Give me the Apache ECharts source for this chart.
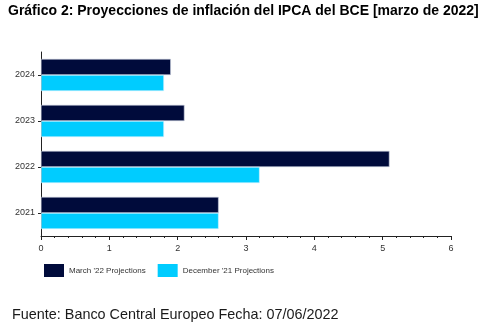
<!DOCTYPE html>
<html><head><meta charset="utf-8">
<script src="https://cdn.jsdelivr.net/npm/echarts@6/dist/echarts.min.js"></script>
<style>html,body{margin:0;padding:0;background:#fff}#c{width:503px;height:332px}</style>
</head><body><div id="c"></div>
<script>
const categories = ['2021', '2022', '2023', '2024'];
const march22 = [2.6, 5.1, 2.1, 1.9];
const dec21 = [2.6, 3.2, 1.8, 1.8];
const seriesNames = ["March '22 Projections", "December '21 Projections"];
const xTicks = [0, 1, 2, 3, 4, 5, 6];

const chart = echarts.init(document.getElementById('c'), null, {renderer: 'canvas'});
chart.setOption({
  animation: false,
  title: [
    {text: 'Gráfico 2: Proyecciones de inflación del IPCA del BCE [marzo de 2022]', left: 8, top: 4, padding: 0,
     textStyle: {fontFamily: 'Liberation Sans', fontWeight: 'bold', fontSize: 14, color: '#000'}},
    {text: 'Fuente: Banco Central Europeo Fecha: 07/06/2022', left: 12, top: 308, padding: 0,
     textStyle: {fontFamily: 'Liberation Sans', fontWeight: 'normal', fontSize: 14.4, color: '#1a1a1a'}}
  ],
  legend: {left: 44, top: 264, padding: 0, itemWidth: 20, itemHeight: 13, itemGap: 12, icon: 'rect',
    itemStyle: {borderWidth: 0},
    textStyle: {fontFamily: 'Liberation Sans', fontSize: 8, color: '#333'},
    data: seriesNames},
  grid: {left: 41, right: 52, top: 52, bottom: 96, containLabel: false},
  xAxis: {type: 'value', min: xTicks[0], max: xTicks[xTicks.length - 1], interval: 1,
    axisLine: {show: true, lineStyle: {color: '#222', width: 1}},
    axisTick: {show: true, length: 4, lineStyle: {color: '#222'}},
    minorTick: {show: true, splitNumber: 5, length: 2, lineStyle: {color: '#222'}},
    splitLine: {show: false},
    axisLabel: {fontFamily: 'Liberation Sans', fontSize: 9, color: '#333', margin: 8}},
  yAxis: {type: 'category', data: categories,
    axisLine: {show: true, lineStyle: {color: '#222', width: 1}},
    axisTick: {show: true, alignWithLabel: true, length: 3, lineStyle: {color: '#222'}},
    axisLabel: {fontFamily: 'Liberation Sans', fontSize: 9, color: '#333', margin: 6}},
  series: [
    {name: seriesNames[0], type: 'bar', data: march22, barGap: '0%', barCategoryGap: '30%',
     itemStyle: {color: '#000B3B', borderColor: '#c8d0e0', borderWidth: 0.6}},
    {name: seriesNames[1], type: 'bar', data: dec21,
     itemStyle: {color: '#00CCFF', borderColor: '#d8f4ff', borderWidth: 0.6}}
  ]
});
</script></body></html>
